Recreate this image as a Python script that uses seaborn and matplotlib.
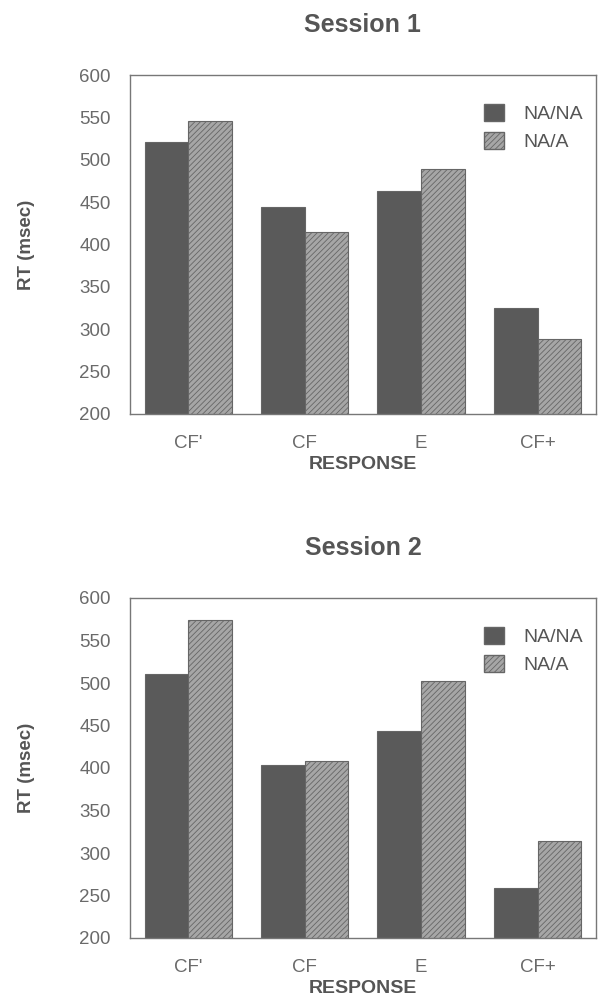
import numpy as np
import pandas as pd
import matplotlib
matplotlib.use('Agg')
import matplotlib.pyplot as plt
from matplotlib.patches import Patch
import seaborn as sns

# values (RT in msec)
responses = ["CF'", "CF", "E", "CF+"]
conditions = ["NA/NA", "NA/A"]
session1_nana = [521, 444, 463, 325]
session1_naa = [546, 415, 489, 289]
session2_nana = [511, 403, 444, 259]
session2_naa = [574, 408, 502, 314]
y_ticks = [200, 250, 300, 350, 400, 450, 500, 550, 600]

sessions = {
    "Session 1": (session1_nana, session1_naa),
    "Session 2": (session2_nana, session2_naa),
}

sns.set_style("white")
plt.rcParams['font.family'] = ['Liberation Sans', 'DejaVu Sans']
plt.rcParams['hatch.linewidth'] = 0.6

text_color = '#555555'
tick_color = '#6a6a6a'
colors = {"NA/NA": '#5a5a5a', "NA/A": '#a6a6a6'}

fig = plt.figure(figsize=(6.03, 10), dpi=100)
axes_pos = [[0.2156, 0.586, 0.7724, 0.339], [0.2156, 0.062, 0.7724, 0.340]]

for pos, (title, (nana, naa)) in zip(axes_pos, sessions.items()):
    ax = fig.add_axes(pos)
    df = pd.DataFrame({
        'response': responses * 2,
        'condition': [conditions[0]] * 4 + [conditions[1]] * 4,
        'rt': nana + naa,
    })
    sns.barplot(data=df, x='response', y='rt', hue='condition',
                hue_order=conditions, palette=colors, width=0.75,
                edgecolor='#666666', linewidth=0.8, saturation=1,
                legend=False, ax=ax)

    # hatch the NA/A bars
    for bar in ax.containers[1]:
        bar.set_hatch('//////')

    ax.set_ylim(200, 600)
    ax.set_xlim(-0.5, 3.5)
    ax.set_yticks(y_ticks)
    ax.tick_params(axis='y', direction='out', length=8, width=1.0, pad=6,
                   colors='#777777', labelcolor=tick_color, labelsize=13.5)
    ax.tick_params(axis='x', length=0, labelcolor=tick_color, labelsize=13.5, pad=15)
    for s in ax.spines.values():
        s.set_color('#777777')
        s.set_linewidth(1.0)

    ax.set_title(title, fontsize=18, fontweight='bold', color=text_color, pad=31)
    ax.set_ylabel('RT (msec)', fontsize=13.5, fontweight='bold', color=text_color, labelpad=32)
    ax.set_xlabel('RESPONSE', fontsize=14, fontweight='bold', color=text_color, labelpad=3)

    handles = [Patch(facecolor=colors["NA/NA"], edgecolor='#666666', label="NA/NA"),
               Patch(facecolor=colors["NA/A"], edgecolor='#666666', hatch='//////', label="NA/A")]
    leg = ax.legend(handles=handles, loc='upper right', frameon=False,
                    bbox_to_anchor=(0.972, 0.915), borderaxespad=0, borderpad=0,
                    fontsize=14, handlelength=1.0, handleheight=1.0, handletextpad=1.0,
                    labelspacing=0.45)
    for t in leg.get_texts():
        t.set_color(text_color)

fig.savefig('out.png', dpi=100)
